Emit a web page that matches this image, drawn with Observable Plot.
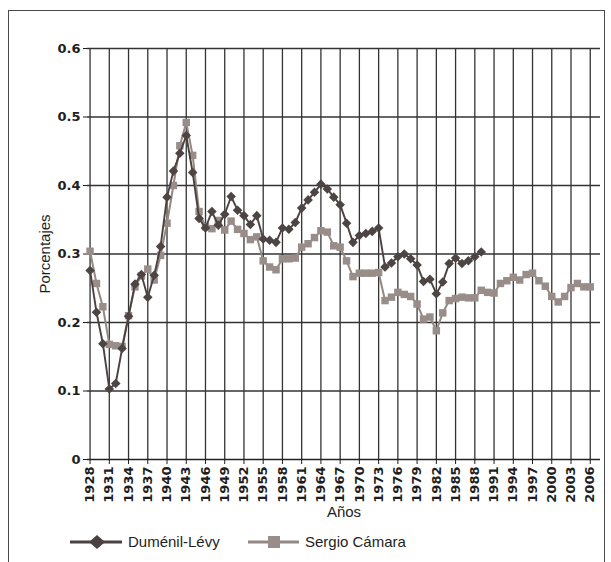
<!DOCTYPE html>
<html>
<head>
<meta charset="utf-8">
<script src="https://cdn.jsdelivr.net/npm/d3@7"></script>
<script src="https://cdn.jsdelivr.net/npm/@observablehq/plot@0.6"></script>
<style>
  html, body { margin: 0; padding: 0; background: #fff; }
  #wrap { position: relative; width: 611px; height: 562px; overflow: hidden; background: #fff; }
  #frame { position: absolute; left: 8px; top: 10px; width: 597px; height: 620px; border: 1.5px solid #4a4a4a; box-sizing: border-box; }
  #chart { position: absolute; left: 0; top: 0; }
  .leg { position: absolute; top: 530px; height: 24px; font-family: "Liberation Sans", Arial, sans-serif; font-size: 15px; color: #1e1e1e; }
  .leg svg { position: absolute; left: 0; top: 0; }
  .leg span { position: absolute; top: 3px; white-space: nowrap; }
</style>
</head>
<body>
<div id="wrap">
  <div id="frame"></div>
  <div id="chart"></div>
  <div class="leg" style="left:68px;width:200px;">
    <svg width="56" height="24"><line x1="2" y1="12" x2="54" y2="12" stroke="#4a4240" stroke-width="3"/><path d="M29,5 L37,12 L29,19 L21,12 Z" fill="#4a4240"/></svg>
    <span style="left:60px;">Duménil-Lévy</span>
  </div>
  <div class="leg" style="left:246px;width:220px;">
    <svg width="56" height="24"><line x1="2" y1="12" x2="53" y2="12" stroke="#938884" stroke-width="3"/><rect x="22" y="6" width="12" height="12" fill="#998d89"/></svg>
    <span style="left:59px;">Sergio Cámara</span>
  </div>
</div>
<script>
// ---- Data ----
const dlYears = d3.range(1928, 1990);
const dlValues = [
  0.276, 0.215, 0.169, 0.103, 0.111, 0.162, 0.209, 0.256, 0.270, 0.237,
  0.269, 0.311, 0.383, 0.421, 0.447, 0.473, 0.419, 0.352, 0.338, 0.362,
  0.342, 0.358, 0.384, 0.364, 0.356, 0.343, 0.356, 0.322, 0.320, 0.317,
  0.338, 0.336, 0.346, 0.367, 0.379, 0.390, 0.402, 0.395, 0.383, 0.372,
  0.345, 0.317, 0.327, 0.330, 0.333, 0.338, 0.281, 0.287, 0.296, 0.300,
  0.293, 0.284, 0.260, 0.263, 0.242, 0.259, 0.286, 0.294, 0.286, 0.290,
  0.296, 0.303
];
const scYears = d3.range(1928, 2007);
const scValues = [
  0.304, 0.257, 0.223, 0.168, 0.166, 0.165, 0.210, 0.252, 0.268, 0.278,
  0.262, 0.298, 0.345, 0.400, 0.458, 0.492, 0.444, 0.362, 0.340, 0.337,
  0.349, 0.335, 0.348, 0.336, 0.330, 0.321, 0.325, 0.290, 0.281, 0.277,
  0.293, 0.293, 0.294, 0.310, 0.315, 0.324, 0.334, 0.332, 0.312, 0.310,
  0.290, 0.267, 0.272, 0.272, 0.272, 0.273, 0.232, 0.237, 0.244, 0.241,
  0.238, 0.227, 0.205, 0.208, 0.188, 0.214, 0.232, 0.235, 0.237, 0.236,
  0.236, 0.247, 0.244, 0.243, 0.257, 0.261, 0.266, 0.262, 0.270, 0.272,
  0.261, 0.253, 0.238, 0.230, 0.238, 0.251, 0.257, 0.252, 0.252
];
const xTickYears = [1928, 1931, 1934, 1937, 1940, 1943, 1946, 1949, 1952, 1955, 1958, 1961, 1964,
  1967, 1970, 1973, 1976, 1979, 1982, 1985, 1988, 1991, 1994, 1997, 2000, 2003, 2006];
const yTickValues = [0, 0.1, 0.2, 0.3, 0.4, 0.5, 0.6];
const xTitle = "Años";
const yTitle = "Porcentajes";

const dl = dlYears.map((year, i) => ({year, value: dlValues[i]}));
const sc = scYears.map((year, i) => ({year, value: scValues[i]}));

const gridColor = "#333333";

const chart = Plot.plot({
  width: 611,
  height: 525,
  marginLeft: 87,
  marginRight: 11,
  marginTop: 48,
  marginBottom: 66,
  x: {
    domain: [1927.6, 2007.6],
    ticks: xTickYears,
    tickFormat: d => String(d),
    tickRotate: -90,
    tickSize: 5,
    tickPadding: 2,
    label: null
  },
  y: {
    domain: [0, 0.6],
    ticks: yTickValues,
    tickFormat: d => (d === 0 ? "0" : d.toFixed(1)),
    tickSize: 4,
    tickPadding: 3,
    label: null
  },
  style: {
    fontFamily: "DejaVu Sans",
    fontSize: "13px",
    fontWeight: "bold",
    color: "#1e1e1e",
    background: "transparent"
  },
  marks: [
    Plot.ruleY(yTickValues.filter(d => d > 0), {stroke: gridColor, strokeWidth: 1.3}),
    Plot.ruleX(xTickYears, {y1: 0, y2: 0.6, stroke: gridColor, strokeWidth: 1.3}),
    Plot.ruleY([0], {stroke: "#222", strokeWidth: 1.6}),
    Plot.line(sc, {x: "year", y: "value", stroke: "#938884", strokeWidth: 2}),
    Plot.dot(sc, {x: "year", y: "value", symbol: "square", r: 4.2, fill: "#998d89", stroke: "none"}),
    Plot.line(dl, {x: "year", y: "value", stroke: "#4a4240", strokeWidth: 1.9}),
    Plot.dot(dl, {x: "year", y: "value", symbol: "diamond2", r: 4.3, fill: "#4d4543", stroke: "none"}),
    Plot.text([xTitle], {frameAnchor: "bottom", dy: 53, lineAnchor: "middle", textAnchor: "middle", fontSize: 15,
      fontFamily: "Liberation Sans", fontWeight: "normal", fill: "#1e1e1e"}),
    Plot.text([yTitle], {frameAnchor: "left", dx: -42, rotate: -90, lineAnchor: "middle", textAnchor: "middle", fontSize: 15,
      fontFamily: "Liberation Sans", fontWeight: "normal", fill: "#1e1e1e"})
  ]
});
document.getElementById("chart").appendChild(chart);
</script>
</body>
</html>
